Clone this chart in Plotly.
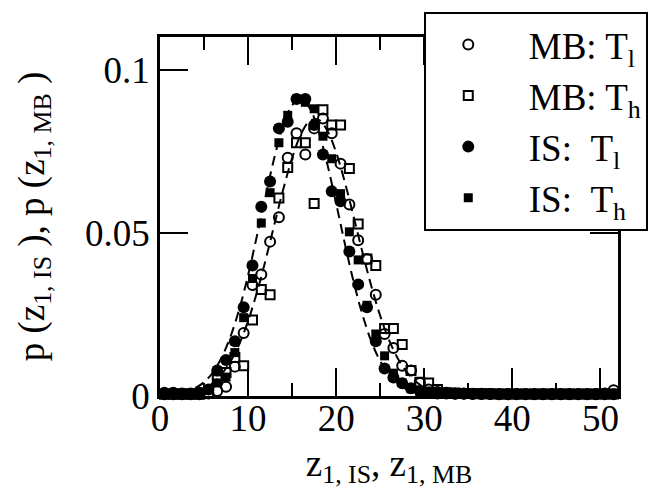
import plotly.graph_objects as go

# bin centres (z values)
z_bins = [0.5, 1.5, 2.5, 3.5, 4.5, 5.5, 6.5, 7.5, 8.5, 9.5,
          10.5, 11.5, 12.5, 13.5, 14.5, 15.5, 16.5, 17.5, 18.5, 19.5,
          20.5, 21.5, 22.5, 23.5, 24.5, 25.5, 26.5, 27.5, 28.5, 29.5,
          30.5, 31.5, 32.5, 33.5, 34.5, 35.5, 36.5, 37.5, 38.5, 39.5,
          40.5, 41.5, 42.5, 43.5, 44.5, 45.5, 46.5, 47.5, 48.5, 49.5,
          50.5, 51.5]

is_tl = [0.0010, 0.0010, 0.0008, 0.0008, 0.0010, 0.0020, 0.0078, 0.0110, 0.0168, 0.0272,
         0.0400, 0.0580, 0.0657, 0.0820, 0.0840, 0.0910, 0.0910, 0.0830, 0.0740, 0.0627,
         0.0597, 0.0443, 0.0342, 0.0272, 0.0168, 0.0084, 0.0057, 0.0039, 0.0024, 0.0015,
         0.0010, 0.0008, 0.0008, 0.0007, 0.0007, 0.0006, 0.0006, 0.0006, 0.0005, 0.0005,
         0.0005, 0.0005, 0.0005, 0.0005, 0.0005, 0.0005, 0.0005, 0.0005, 0.0005, 0.0005,
         0.0005, 0.0005]

is_th = [0.0008, 0.0008, 0.0010, 0.0010, 0.0012, 0.0020, 0.0040, 0.0058, 0.0133, 0.0240,
         0.0360, 0.0530, 0.0623, 0.0776, 0.0860, 0.0910, 0.0900, 0.0880, 0.0796, 0.0727,
         0.0620, 0.0503, 0.0417, 0.0278, 0.0190, 0.0123, 0.0070, 0.0040, 0.0022, 0.0012,
         0.0008, 0.0008, 0.0007, 0.0007, 0.0006, 0.0006, 0.0006, 0.0005, 0.0005, 0.0005,
         0.0005, 0.0005, 0.0005, 0.0005, 0.0005, 0.0005, 0.0005, 0.0005, 0.0005, 0.0005,
         0.0005, 0.0005]

mb_tl = [0.0005, 0.0005, 0.0005, 0.0005, 0.0005, 0.0008, 0.0015, 0.0028, 0.0090, 0.0193,
         0.0340, 0.0372, 0.0473, 0.0548, 0.0730, 0.0805, 0.0740, 0.0820, 0.0850, 0.0805,
         0.0712, 0.0587, 0.0477, 0.0420, 0.0310, 0.0190, 0.0147, 0.0093, 0.0078, 0.0040,
         0.0020, 0.0012, 0.0010, 0.0008, 0.0008, 0.0007, 0.0007, 0.0006, 0.0006, 0.0006,
         0.0006, 0.0006, 0.0006, 0.0006, 0.0006, 0.0006, 0.0006, 0.0006, 0.0006, 0.0006,
         0.0008, 0.0018]

mb_th = [0.0005, 0.0005, 0.0005, 0.0005, 0.0005, 0.0010, 0.0050, 0.0072, 0.0118, 0.0093,
         0.0233, 0.0326, 0.0310, 0.0607, 0.0700, 0.0776, 0.0776, 0.0590, 0.0877, 0.0830,
         0.0830, 0.0697, 0.0527, 0.0420, 0.0400, 0.0207, 0.0207, 0.0158, 0.0078, 0.0042,
         0.0040, 0.0020, 0.0010, 0.0009, 0.0008, 0.0008, 0.0007, 0.0007, 0.0006, 0.0006,
         0.0006, 0.0006, 0.0006, 0.0006, 0.0006, 0.0006, 0.0006, 0.0006, 0.0006, 0.0006,
         0.0006, 0.0006]

# dashed fit curves
fit_is_z = [4, 5, 6, 7, 8, 9, 10, 11, 12, 13, 14, 15, 16, 17, 18, 19, 20, 21, 22,
            23, 24, 25, 26, 27, 28, 29, 30]
fit_is_p = [0.0024, 0.0042, 0.0072, 0.0118, 0.0182, 0.0266, 0.0370, 0.0490, 0.0614,
            0.0732, 0.0829, 0.0891, 0.0910, 0.0882, 0.0812, 0.0710, 0.0590, 0.0465,
            0.0348, 0.0248, 0.0167, 0.0107, 0.0065, 0.0038, 0.0021, 0.0011, 0.0005]

fit_mb_z = [4, 5, 6, 7, 8, 9, 10, 11, 12, 13, 14, 15, 16, 17, 18, 19, 20, 21, 22,
            23, 24, 25, 26, 27, 28, 29, 30, 31, 32, 33]
fit_mb_p = [0.0013, 0.0023, 0.0040, 0.0067, 0.0106, 0.0159, 0.0230, 0.0317, 0.0418,
            0.0527, 0.0634, 0.0729, 0.0802, 0.0843, 0.0847, 0.0813, 0.0746, 0.0654,
            0.0548, 0.0439, 0.0336, 0.0246, 0.0172, 0.0115, 0.0074, 0.0045, 0.0026,
            0.0015, 0.0008, 0.0004]

FONT = "Liberation Serif"
NB = "\u00a0"

fig = go.Figure()

dash = "10px,6px"
fig.add_trace(go.Scatter(x=fit_is_z, y=fit_is_p, mode="lines", showlegend=False,
                         line=dict(color="black", width=2, dash=dash, shape="spline")))
fig.add_trace(go.Scatter(x=fit_mb_z, y=fit_mb_p, mode="lines", showlegend=False,
                         line=dict(color="black", width=2, dash=dash, shape="spline")))

fig.add_trace(go.Scatter(x=z_bins, y=mb_tl, mode="markers", name=NB * 2 + "MB: T<sub>l</sub>",
                         legendrank=1, legendgroup="a",
                         marker=dict(symbol="circle-open", size=10, color="black",
                                     line=dict(color="black", width=2))))
fig.add_trace(go.Scatter(x=z_bins, y=mb_th, mode="markers", name=NB * 2 + "MB: T<sub>h</sub>",
                         legendrank=2, legendgroup="b",
                         marker=dict(symbol="square-open", size=9, color="black",
                                     line=dict(color="black", width=2))))
fig.add_trace(go.Scatter(x=z_bins, y=is_tl, mode="markers", name=NB * 2 + "IS:" + NB * 2 + "T<sub>l</sub>",
                         legendrank=3, legendgroup="c",
                         marker=dict(symbol="circle", size=12, color="black")))
fig.add_trace(go.Scatter(x=z_bins, y=is_th, mode="markers", name=NB * 2 + "IS:" + NB * 2 + "T<sub>h</sub>",
                         legendrank=4, legendgroup="d",
                         marker=dict(symbol="square", size=9, color="black")))

axis_common = dict(showline=True, linecolor="black", linewidth=2.5, mirror="ticks",
                   ticks="inside", ticklen=28, tickwidth=2, tickcolor="black",
                   showgrid=False, zeroline=False,
                   tickfont=dict(family=FONT, size=37, color="black"))

fig.update_xaxes(range=[0, 52], tickvals=[0, 10, 20, 30, 40, 50],
                 minor=dict(ticks="inside", ticklen=13, tickwidth=2, tickcolor="black",
                            tickvals=[5, 15, 25, 35, 45]),
                 ticklabelstandoff=-12,
                 title=dict(text="z<sub>1, IS</sub>, z<sub>1, MB</sub>",
                            font=dict(family=FONT, size=37, color="black"), standoff=12),
                 **axis_common)
fig.update_yaxes(range=[0, 0.11], tickvals=[0, 0.05, 0.1], ticktext=["0", "0.05", "0.1"],
                 title=dict(text="p (z<sub>1, IS</sub> ), p (z<sub>1, MB</sub> )",
                            font=dict(family=FONT, size=37, color="black"), standoff=30),
                 **axis_common)

fig.update_traces(cliponaxis=False, selector=dict(mode="markers"))

fig.update_layout(
    width=660, height=497,
    margin=dict(l=160, r=32, t=28, b=101),
    paper_bgcolor="white", plot_bgcolor="white",
    font=dict(family=FONT, color="black"),
    legend=dict(x=0.577, y=1.07, xanchor="left", yanchor="top",
                bgcolor="white", bordercolor="black", borderwidth=2,
                font=dict(family=FONT, size=37, color="black"),
                itemwidth=74, tracegroupgap=6, traceorder="normal"),
)

fig.write_html("out.html")
